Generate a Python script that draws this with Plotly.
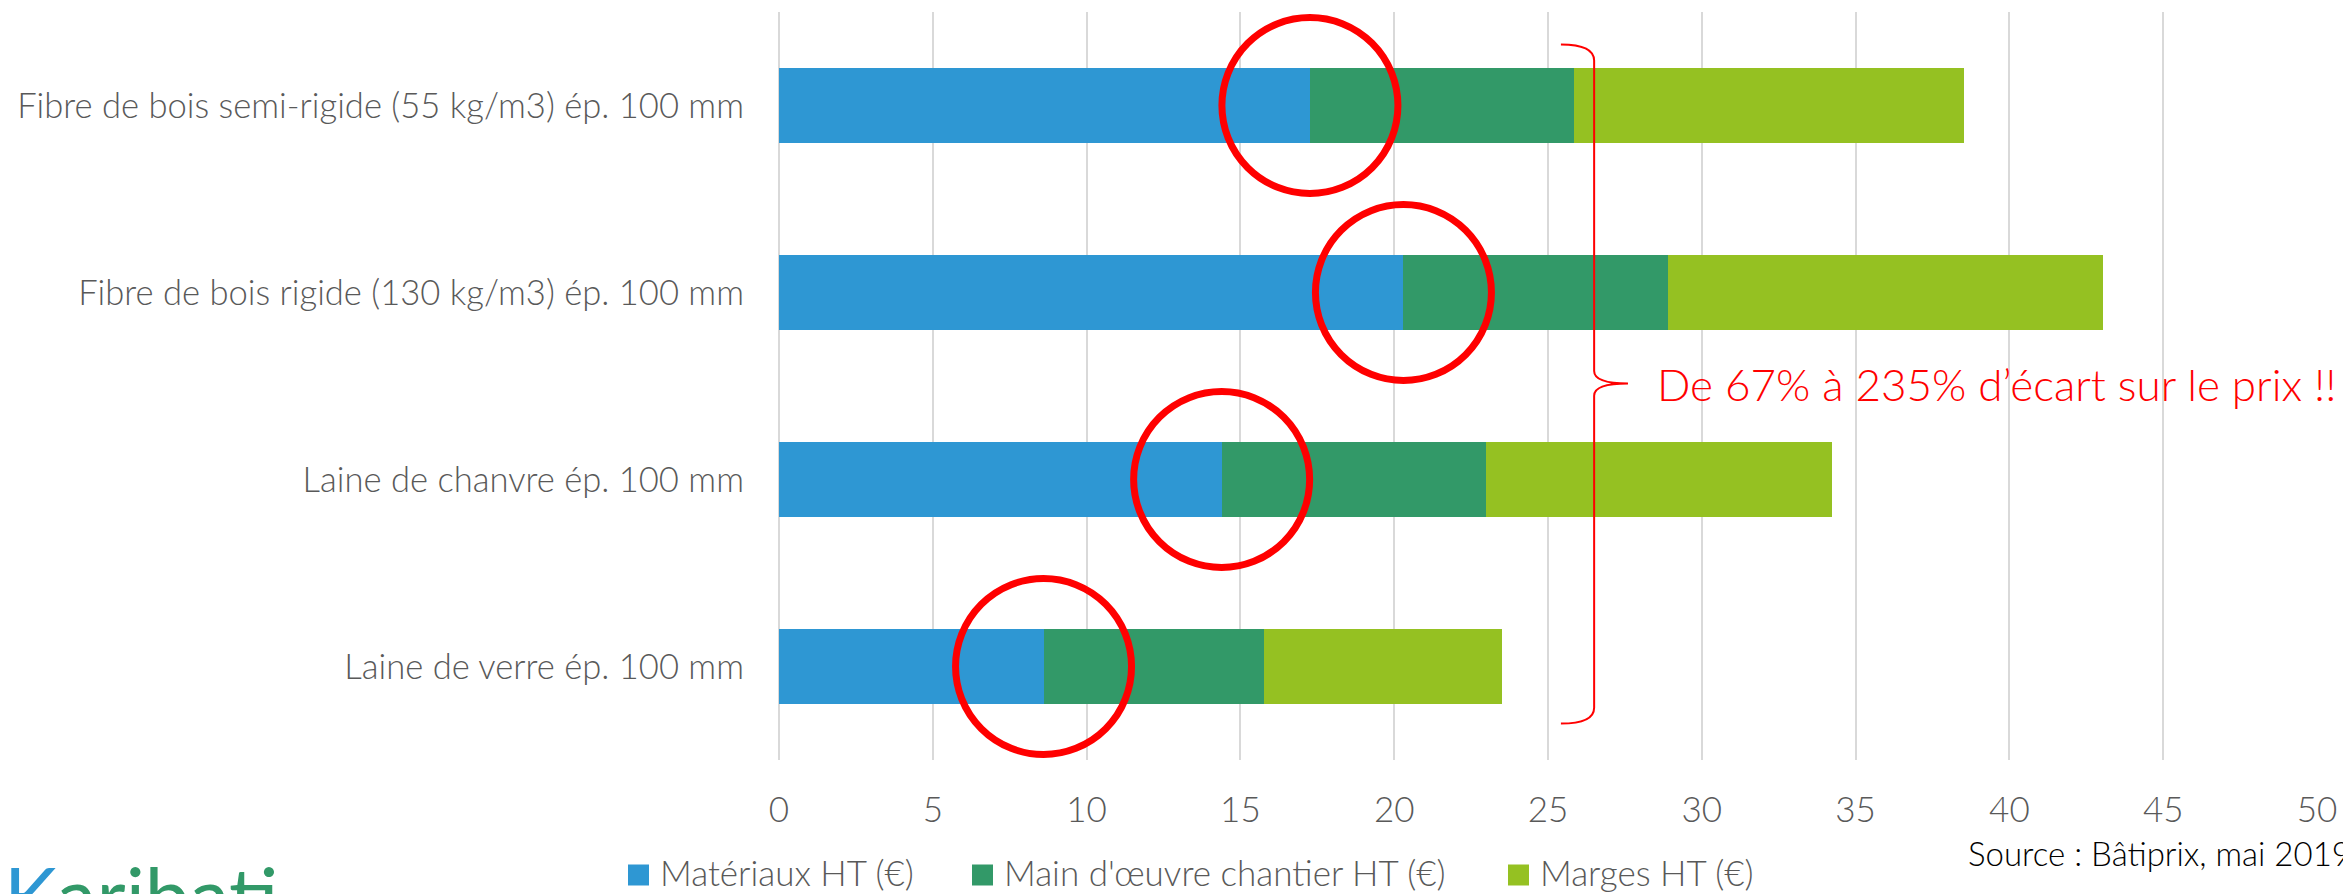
import plotly.graph_objects as go

# ---- data ----
categories = [
    "Fibre de bois semi-rigide (55 kg/m3) ép. 100 mm",
    "Fibre de bois rigide (130 kg/m3) ép. 100 mm",
    "Laine de chanvre ép. 100 mm",
    "Laine de verre ép. 100 mm",
]
materiaux = [17.26, 20.30, 14.39, 8.60]
main_oeuvre = [8.58, 8.59, 8.60, 7.17]
marges = [12.67, 14.14, 11.24, 7.74]
series_names = ["Matériaux HT (€)", "Main d'œuvre chantier HT (€)", "Marges HT (€)"]
x_ticks = [0, 5, 10, 15, 20, 25, 30, 35, 40, 45, 50]
callout_text = "De 67% à 235% d’écart sur le prix !!"
source_text = "Source : Bâtiprix, mai 2019"

# ---- style ----
colors = ["#2E97D3", "#329968", "#95C122"]
GRAY = "#595959"
FONT = "Lato"
W, H = 2343, 894
ML, MR, MT, MB = 779, 26, 12, 134
PW, PH = W - ML - MR, H - MT - MB


def px_x(px):
    return (px - ML) / PW


def px_y(py):
    return (H - MB - py) / PH


fig = go.Figure()
for name, vals, col in zip(series_names, [materiaux, main_oeuvre, marges], colors):
    fig.add_trace(go.Bar(
        y=categories, x=vals, name=name, orientation="h",
        marker=dict(color=col, line=dict(width=0)),
    ))

# red circles around the end of the material cost
shapes = []
for i, v in enumerate(materiaux):
    shapes.append(dict(
        type="circle", xref="x", yref="y",
        xsizemode="pixel", ysizemode="pixel",
        xanchor=v, yanchor=i,
        x0=-88, x1=88, y0=-88, y1=88,
        line=dict(color="#FF0000", width=7),
    ))

# curly brace
bx0, bx1, bx2 = 25.42, 26.50, 27.60
path = (f"M {bx0},0.9566 Q {bx1},0.9566 {bx1},0.935 "
        f"L {bx1},0.52 Q {bx1},0.5033 {bx2},0.5033 "
        f"Q {bx1},0.5033 {bx1},0.487 "
        f"L {bx1},0.07 Q {bx1},0.0488 {bx0},0.0488")
shapes.append(dict(type="path", xref="x", yref="paper", path=path,
                   line=dict(color="#FF0000", width=2)))

annotations = [
    dict(text=callout_text, xref="x", yref="paper", x=28.48, y=0.5033,
         xanchor="left", yanchor="middle", showarrow=False,
         font=dict(family=FONT, size=44, color="#FF0000")),
    dict(text=source_text, xref="paper", yref="paper", x=px_x(1966), y=px_y(853),
         xanchor="left", yanchor="middle", showarrow=False,
         font=dict(family=FONT, size=33, color="#000000", weight=300)),
    dict(text=('<span style="color:#2E97D3">K</span>'
               '<span style="color:#329968">aribat</span>'
               '<span style="color:#95C122">i</span>'),
         xref="paper", yref="paper", x=px_x(2), y=px_y(844),
         xanchor="left", yanchor="top", showarrow=False,
         font=dict(family=FONT, size=80, weight=400)),
]

# legend (drawn manually to match the spacing of the original)
legend_sym_x = [628, 972, 1508]
legend_sym_y = 875
legend_text_y = 872
SQ = 21
for name, col, sx in zip(series_names, colors, legend_sym_x):
    shapes.append(dict(type="rect", xref="paper", yref="paper",
                       x0=px_x(sx), x1=px_x(sx + SQ),
                       y0=px_y(legend_sym_y + SQ / 2), y1=px_y(legend_sym_y - SQ / 2),
                       fillcolor=col, line=dict(width=0)))
    annotations.append(dict(text=name, xref="paper", yref="paper",
                            x=px_x(sx + SQ + 9), y=px_y(legend_text_y),
                            xanchor="left", yanchor="middle", showarrow=False,
                            font=dict(family=FONT, size=35, color=GRAY, weight=300)))

fig.update_layout(
    width=W, height=H, autosize=False,
    margin=dict(l=ML, r=MR, t=MT, b=MB, pad=0, autoexpand=False),
    paper_bgcolor="white", plot_bgcolor="white",
    barmode="stack", bargap=0.6,
    font=dict(family=FONT, color=GRAY, size=35, weight=300),
    showlegend=False,
    shapes=shapes, annotations=annotations,
)
fig.update_xaxes(range=[0, 50], tickvals=x_ticks, showgrid=True, automargin=False,
                 gridcolor="#D9D9D9", gridwidth=2, zeroline=True,
                 zerolinecolor="#D9D9D9", zerolinewidth=2, showline=False,
                 ticks="", ticklabelstandoff=26,
                 tickfont=dict(family=FONT, size=35, color=GRAY, weight=300))
fig.update_yaxes(autorange="reversed", showgrid=False, zeroline=False, automargin=False,
                 showline=False, ticks="", ticklabelstandoff=34,
                 tickfont=dict(family=FONT, size=34.6, color=GRAY, weight=300))

fig.write_html("out.html")
